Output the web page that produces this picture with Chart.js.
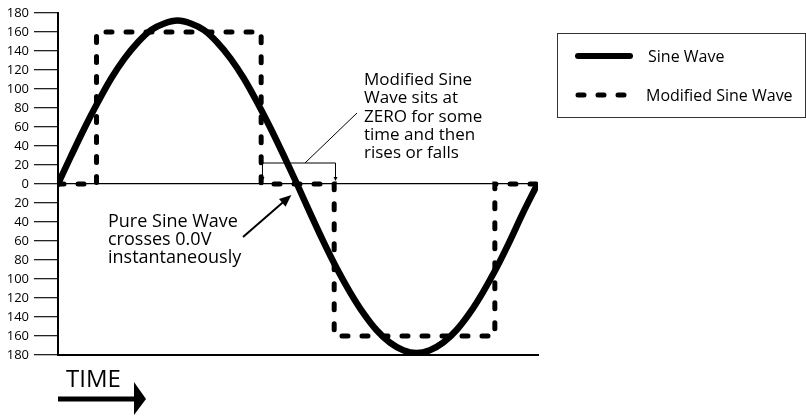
<!DOCTYPE html>
<html>
<head>
<meta charset="utf-8">
<script src="https://cdn.jsdelivr.net/npm/chart.js@4.4.1/dist/chart.umd.min.js"></script>
<style>
html, body { margin: 0; padding: 0; background: #fff; }
canvas { display: block; }
</style>
</head>
<body>
<canvas id="wave_chart" width="806" height="416"></canvas>
<script>
// phase angle (degrees) over one full cycle
var sineAngles = [0, 10, 20, 30, 40, 50, 60, 70, 80, 90, 100, 110, 120, 130, 140, 150, 160, 170, 180,
                  190, 200, 210, 220, 230, 240, 250, 260, 270, 280, 290, 300, 310, 320, 330, 340, 350, 360];
var sineValues = [0, 30, 59, 86, 111, 132, 149, 162, 169, 172, 169, 162, 149, 132, 111, 86, 59, 30, 0,
                  -31, -61, -89, -114, -136, -154, -167, -175, -178, -175, -167, -154, -136, -114, -89, -61, -31, -3];

var modifiedAngles = [0, 29, 29, 153, 153, 208, 208, 329, 329, 360];
var modifiedValues = [0, 0, 160, 160, 0, 0, -160, -160, 0, 0];

var yTickValues = [-180, -160, -140, -120, -100, -80, -60, -40, -20, 0, 20, 40, 60, 80, 100, 120, 140, 160, 180];

var legendLabels = ['Sine Wave', 'Modified Sine Wave'];
var noteZero = ['Modified Sine', 'Wave sits at', 'ZERO for some', 'time and then', 'rises or falls'];
var notePure = ['Pure Sine Wave', 'crosses 0.0V', 'instantaneously'];

var FONT = "'Open Sans', 'Noto Sans', sans-serif";

function toPoints(xs, ys) {
    return xs.map(function(x, i) { return {x: x, y: ys[i]}; });
}

var overlayPlugin = {
    id: 'overlay',
    afterDraw: function(chart) {
        var ctx = chart.ctx, xs = chart.scales.x, ys = chart.scales.y;
        ctx.save();
        ctx.fillStyle = '#000';
        ctx.textBaseline = 'alphabetic';
        ctx.textAlign = 'left';

        // legend box
        ctx.lineWidth = 1;
        ctx.strokeStyle = '#333';
        ctx.strokeRect(557.5, 33.5, 248, 84);
        ctx.strokeStyle = '#000';
        ctx.lineCap = 'round';
        ctx.lineWidth = 6;
        ctx.beginPath(); ctx.moveTo(578, 56); ctx.lineTo(630, 56); ctx.stroke();
        ctx.lineWidth = 5;
        ctx.setLineDash([6, 14]);
        ctx.beginPath(); ctx.moveTo(578, 95); ctx.lineTo(632, 95); ctx.stroke();
        ctx.setLineDash([]);
        ctx.font = '16px ' + FONT;
        ctx.fillText(legendLabels[0], 648, 62);
        ctx.fillText(legendLabels[1], 646, 101);

        // note about the zero step
        ctx.font = '17px ' + FONT;
        noteZero.forEach(function(t, i) { ctx.fillText(t, 364, 85 + i * 18.3); });

        // bracket over the zero step
        var bl = xs.getPixelForValue(154), br = xs.getPixelForValue(209), by = 163, z = ys.getPixelForValue(0);
        ctx.lineWidth = 1;
        ctx.lineCap = 'butt';
        ctx.beginPath();
        ctx.moveTo(bl, z - 6); ctx.lineTo(bl, by); ctx.lineTo(br, by); ctx.lineTo(br, z - 6);
        ctx.moveTo((bl + br) / 2 + 6, by); ctx.lineTo(357, 113);
        ctx.stroke();
        [bl, br].forEach(function(px) {
            ctx.beginPath();
            ctx.moveTo(px - 2, z - 7); ctx.lineTo(px + 2, z - 7); ctx.lineTo(px, z - 3);
            ctx.closePath(); ctx.fill();
        });

        // note about the pure sine crossing
        ctx.font = '18px ' + FONT;
        notePure.forEach(function(t, i) { ctx.fillText(t, 108, 227 + i * 18); });
        var tx = xs.getPixelForValue(178) - 3, ty = z + 11;
        var sx = 243, sy = 237;
        var ang = Math.atan2(ty - sy, tx - sx);
        ctx.lineWidth = 2;
        ctx.beginPath(); ctx.moveTo(sx, sy);
        ctx.lineTo(tx - 8 * Math.cos(ang), ty - 8 * Math.sin(ang)); ctx.stroke();
        ctx.beginPath();
        ctx.moveTo(tx, ty);
        ctx.lineTo(tx - 12 * Math.cos(ang) + 5 * Math.sin(ang), ty - 12 * Math.sin(ang) - 5 * Math.cos(ang));
        ctx.lineTo(tx - 12 * Math.cos(ang) - 5 * Math.sin(ang), ty - 12 * Math.sin(ang) + 5 * Math.cos(ang));
        ctx.closePath(); ctx.fill();

        // TIME arrow under the axis
        ctx.font = '24px ' + FONT;
        ctx.fillText('TIME', 66, 387);
        ctx.fillRect(58, 396.5, 78, 5);
        ctx.beginPath();
        ctx.moveTo(134, 382); ctx.lineTo(146, 399); ctx.lineTo(134, 415);
        ctx.closePath(); ctx.fill();

        ctx.restore();
    }
};

var waveChart = new Chart(document.getElementById('wave_chart').getContext('2d'), {
    type: 'line',
    data: {
        datasets: [{
            label: legendLabels[0],
            data: toPoints(sineAngles, sineValues),
            borderColor: '#000',
            borderWidth: 6.5,
            borderCapStyle: 'round',
            cubicInterpolationMode: 'monotone',
            pointRadius: 0,
            fill: false
        }, {
            label: legendLabels[1],
            data: toPoints(modifiedAngles, modifiedValues),
            borderColor: '#000',
            borderWidth: 5,
            borderDash: [6, 14],
            borderCapStyle: 'round',
            tension: 0,
            pointRadius: 0,
            fill: false
        }]
    },
    options: {
        responsive: false,
        animation: false,
        layout: {
            padding: {top: 13, right: 268, bottom: 0, left: 0}
        },
        plugins: {
            legend: {display: false},
            tooltip: {enabled: false},
            title: {display: false}
        },
        scales: {
            x: {
                type: 'linear',
                min: 0,
                max: 361.5,
                ticks: {display: false},
                grid: {display: false},
                border: {display: true, color: '#000', width: 2},
                afterFit: function(scale) { scale.height = 61; }
            },
            y: {
                min: -180,
                max: 180,
                afterBuildTicks: function(scale) {
                    scale.ticks = yTickValues.map(function(v) { return {value: v}; });
                },
                ticks: {
                    color: '#000',
                    padding: 5,
                    font: {family: FONT, size: 13},
                    callback: function(value) { return Math.abs(value); }
                },
                grid: {
                    drawOnChartArea: true,
                    color: function(c) { return c.tick && c.tick.value === 0 ? '#000' : 'rgba(0,0,0,0)'; },
                    lineWidth: 1.3,
                    tickColor: '#222',
                    tickLength: 24,
                    tickWidth: 1.3
                },
                border: {display: true, color: '#000', width: 2},
                afterFit: function(scale) { scale.width = 58; }
            }
        }
    },
    plugins: [overlayPlugin]
});
</script>
</body>
</html>
